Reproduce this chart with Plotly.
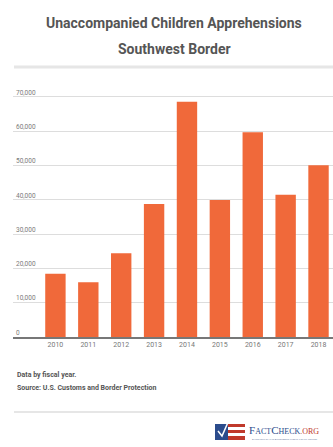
import plotly.graph_objects as go

years = ["2010", "2011", "2012", "2013", "2014", "2015", "2016", "2017", "2018"]
apprehensions = [18411, 15949, 24403, 38759, 68541, 39970, 59692, 41435, 50036]
y_ticks = [0, 10000, 20000, 30000, 40000, 50000, 60000, 70000]
y_tick_labels = ["0", "10,000", "20,000", "30,000", "40,000", "50,000", "60,000", "70,000"]

W, H = 333, 447
ML, MR, MT, MB = 13, 0, 90, 110
PW, PH = W - ML - MR, H - MT - MB

def px(x):
    return (x - ML) / PW

def py(y):
    return (H - MB - y) / PH

fig = go.Figure()
fig.add_trace(go.Bar(
    x=years, y=apprehensions,
    marker=dict(color="#F0693A", line=dict(width=0)),
    width=0.62,
))

fig.update_layout(
    width=W, height=H,
    margin=dict(l=ML, r=MR, t=MT, b=MB),
    paper_bgcolor="white", plot_bgcolor="white",
    showlegend=False,
    font=dict(family="Roboto", color="#666"),
    xaxis=dict(
        type="category", range=[-1.29, 8.44],
        showgrid=False, ticks="", zeroline=False,
        tickfont=dict(size=7, color="#777", family="Roboto"),
        showline=True, linecolor="#777", linewidth=1.5,
        ticklabelstandoff=0,
    ),
    yaxis=dict(
        range=[0, 72000],
        tickvals=y_ticks, ticktext=y_tick_labels,
        ticklabelposition="inside top",
        ticklabeloverflow="allow",
        tickfont=dict(size=6.5, color="#7A7A7A", family="Roboto"),
        gridcolor="#DDDDDD", gridwidth=1,
        zeroline=False, showline=False, ticks="",
    ),
)

anns = [
    dict(text="<b>Unaccompanied Children Apprehensions</b>", x=px(174), y=py(23),
         font=dict(size=14, color="#555", family="Roboto")),
    dict(text="<b>Southwest Border</b>", x=px(174), y=py(49),
         font=dict(size=14, color="#555", family="Roboto")),
    dict(text="<b>Data by fiscal year.</b>", x=px(15), y=py(375), xanchor="left",
         font=dict(size=7, color="#555", family="Roboto")),
    dict(text="<b>Source: U.S. Customs and Border Protection</b>", x=px(15), y=py(388), xanchor="left",
         font=dict(size=7, color="#555", family="Roboto")),
    dict(text="<span style='color:#2B4C8C'>F<span style='font-size:8px'>ACT</span>C<span style='font-size:8px'>HECK</span></span><span style='color:#C0392B;font-size:8px'>.ORG</span>",
         x=px(247), y=py(430), xanchor="left",
         font=dict(size=11, family="Liberation Serif")),
    dict(text="A PROJECT OF THE ANNENBERG PUBLIC POLICY CENTER", x=px(250), y=py(439), xanchor="left",
         font=dict(size=2.5, color="#7A8AAA", family="Roboto")),
]
for a in anns:
    a.update(xref="paper", yref="paper", showarrow=False, yanchor="middle")
    a.setdefault("xanchor", "center")
fig.update_layout(annotations=anns)

shapes = [
    dict(type="line", x0=px(14), x1=px(333), y0=py(67), y1=py(67), line=dict(color="#E6E6E6", width=3)),
    dict(type="line", x0=px(14), x1=px(333), y0=py(412), y1=py(412), line=dict(color="#E6E6E6", width=2)),
    # logo flag
    dict(type="rect", x0=px(215), x1=px(245), y0=py(440), y1=py(424), fillcolor="white", line=dict(width=0)),
    dict(type="rect", x0=px(215), x1=px(245), y0=py(427), y1=py(424), fillcolor="#C0392B", line=dict(width=0)),
    dict(type="rect", x0=px(215), x1=px(245), y0=py(433), y1=py(430), fillcolor="#C0392B", line=dict(width=0)),
    dict(type="rect", x0=px(215), x1=px(245), y0=py(440), y1=py(436), fillcolor="#C0392B", line=dict(width=0)),
    dict(type="rect", x0=px(215), x1=px(228), y0=py(440), y1=py(424), fillcolor="#2B4C8C", line=dict(width=0)),
    dict(type="path", path=f"M {px(218)} {py(431)} L {px(222)} {py(436)} L {px(229)} {py(420)}",
         line=dict(color="white", width=1.5)),
]
for s in shapes:
    s.update(xref="paper", yref="paper")
fig.update_layout(shapes=shapes)

fig.write_html("out.html", config={"displayModeBar": False},
               post_script="document.body.style.margin='0';document.body.style.overflow='hidden';")
